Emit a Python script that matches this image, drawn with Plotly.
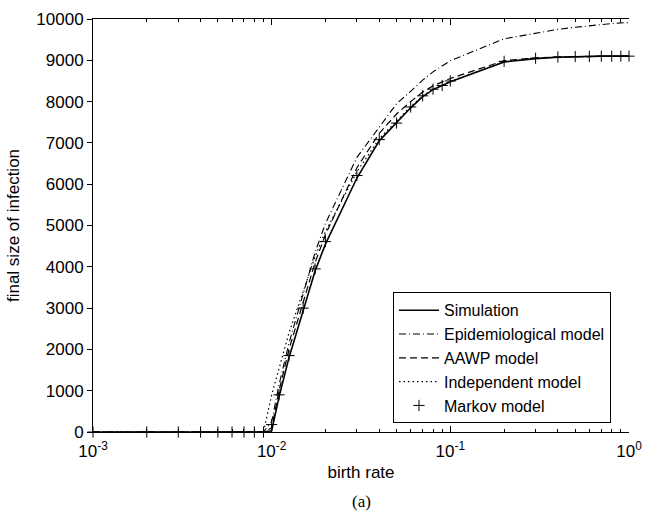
import plotly.graph_objects as go

# birth-rate grid
birth_rate = [0.001, 0.002, 0.003, 0.004, 0.005, 0.006, 0.007, 0.008, 0.009,
              0.01, 0.011, 0.0125, 0.015, 0.0175, 0.02, 0.03, 0.04, 0.05, 0.06,
              0.07, 0.08, 0.09, 0.1, 0.2, 0.3, 0.4, 0.5, 0.6, 0.7, 0.8, 0.9, 1.0]

simulation = [0, 0, 0, 0, 0, 0, 0, 0, 0,
              30, 850, 1800, 2950, 3900, 4550, 6150, 7050, 7500, 7850,
              8120, 8290, 8390, 8480, 8960, 9040, 9075, 9090, 9095, 9100, 9100, 9100, 9100]

epidemiological = [0, 0, 0, 0, 0, 0, 0, 0, 0,
                   250, 1150, 2150, 3350, 4350, 5050, 6650, 7380, 7950, 8250,
                   8520, 8720, 8870, 8990, 9520, 9650, 9750, 9800, 9840, 9870, 9890, 9905, 9915]

aawp = [0, 0, 0, 0, 0, 0, 0, 0, 0,
        100, 1000, 2000, 3150, 4100, 4780, 6400, 7230, 7700, 8000,
        8230, 8380, 8480, 8560, 8990, 9060, 9080, 9090, 9095, 9100, 9100, 9100, 9100]

independent = [0, 0, 0, 0, 0, 0, 0, 0, 0,
               900, 1550, 2400, 3400, 4250, 4850, 6300, 7100, 7530, 7880,
               8140, 8300, 8400, 8490, 8965, 9045, 9078, 9090, 9095, 9100, 9100, 9100, 9100]

markov = [0, 0, 0, 0, 0, 0, 0, 0, 0,
          180, 900, 1850, 3000, 3950, 4610, 6210, 7080, 7480, 7870,
          8140, 8300, 8390, 8500, 8975, 9050, 9080, 9090, 9095, 9100, 9100, 9100, 9100]

x_major = [0.001, 0.01, 0.1, 1]
x_major_text = ["10<sup>-3</sup>", "10<sup>-2</sup>", "10<sup>-1</sup>", "10<sup>0</sup>"]
x_minor = [m * d for d in (0.001, 0.01, 0.1) for m in range(2, 10)]
y_ticks = list(range(0, 10001, 1000))
y_ticktext = [str(v) for v in y_ticks]

FONT = "Liberation Sans, Arial, sans-serif"

fig = go.Figure()
fig.add_trace(go.Scatter(x=birth_rate, y=simulation, mode="lines", name="Simulation",
                         line=dict(color="black", width=1.6)))
fig.add_trace(go.Scatter(x=birth_rate, y=epidemiological, mode="lines", name="Epidemiological model",
                         line=dict(color="black", width=1.1, dash="7px,3px,1px,3px")))
fig.add_trace(go.Scatter(x=birth_rate, y=aawp, mode="lines", name="AAWP model",
                         line=dict(color="black", width=1.2, dash="7px,4px")))
fig.add_trace(go.Scatter(x=birth_rate, y=independent, mode="lines", name="Independent model",
                         line=dict(color="black", width=1.2, dash="1.5px,3px")))
fig.add_trace(go.Scatter(x=birth_rate, y=markov, mode="markers", name="Markov model",
                         cliponaxis=False,
                         marker=dict(symbol="cross-thin", size=8, color="black",
                                     line=dict(color="black", width=1))))

fig.update_layout(
    width=655, height=521,
    margin=dict(l=93, r=26, t=10, b=89),
    paper_bgcolor="white", plot_bgcolor="white",
    font=dict(family=FONT, size=17, color="black"),
    showlegend=True,
    legend=dict(x=0.5597, y=0.021, xanchor="left", yanchor="bottom",
                bgcolor="white", bordercolor="black", borderwidth=1,
                font=dict(family=FONT, size=16, color="black"),
                itemwidth=40, tracegroupgap=0, traceorder="normal"),
    xaxis=dict(type="log", range=[-3, 0], tickvals=x_major, ticktext=x_major_text,
               ticks="inside", ticklen=6, tickcolor="black", mirror="ticks",
               showline=True, linecolor="black", linewidth=1, showgrid=False,
               zeroline=False, ticklabelstandoff=4,
               minor=dict(tickvals=x_minor, ticks="inside", ticklen=3, tickcolor="black", showgrid=False),
               tickfont=dict(family=FONT, size=17),
               title=dict(text="birth rate", font=dict(family=FONT, size=17), standoff=5)),
    yaxis=dict(range=[0, 10000], tickvals=y_ticks, ticktext=y_ticktext,
               ticks="outside", ticklen=5, tickcolor="black",
               showline=True, linecolor="black", linewidth=1, showgrid=False,
               zeroline=False,
               tickfont=dict(family=FONT, size=17),
               title=dict(text="final size of infection", font=dict(family=FONT, size=17), standoff=12)),
    yaxis2=dict(range=[0, 10000], tickvals=y_ticks, overlaying="y", side="right",
                ticks="inside", ticklen=5, tickcolor="black", showticklabels=False,
                showline=True, linecolor="black", linewidth=1, showgrid=False, zeroline=False),
)

fig.add_annotation(text="(a)", xref="paper", yref="paper", x=0.5, y=-0.14,
                   xanchor="center", yanchor="top", showarrow=False,
                   font=dict(family="Liberation Serif, Times New Roman, serif", size=17, color="black"))

fig.write_html("out.html")
